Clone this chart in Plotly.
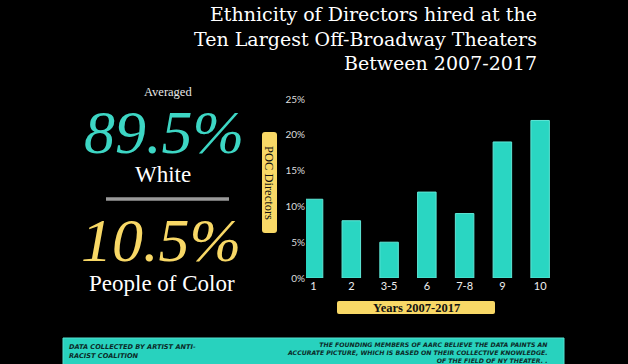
import plotly.graph_objects as go

categories = ["1", "2", "3-5", "6", "7-8", "9", "10"]
poc_share = [0.11, 0.08, 0.05, 0.12, 0.09, 0.19, 0.22]
y_ticks = [0, 0.05, 0.10, 0.15, 0.20, 0.25]
y_tick_labels = ["0%", "5%", "10%", "15%", "20%", "25%"]

title_lines = ["Ethnicity of Directors hired at the",
               "Ten Largest Off-Broadway Theaters",
               "Between 2007-2017"]
white_pct = "89.5%"
poc_pct = "10.5%"
credit_lines = ["DATA COLLECTED BY ARTIST ANTI-", "RACIST COALITION"]
note_lines = ["THE FOUNDING MEMBERS OF AARC BELIEVE THE DATA PAINTS AN",
              "ACCURATE PICTURE, WHICH IS BASED ON THEIR COLLECTIVE KNOWLEDGE.",
              "OF THE FIELD OF NY THEATER. ."]

W, H = 628, 364
L, R, T, B = 306, 72, 99, 86
PW, PH = W - L - R, H - T - B

def px(x):
    return (x - L) / PW

def py(y):
    return (H - B - y) / PH

TEAL = "#2ad6c2"
YELLOW = "#f8d866"
SERIF = "Liberation Serif, DejaVu Serif, serif"

fig = go.Figure()
fig.add_trace(go.Bar(
    x=list(range(len(categories))), y=poc_share,
    marker=dict(color=TEAL, line=dict(color="#5fe6d6", width=1)),
    width=0.49, hoverinfo="skip",
))

ann = []
for i, line in enumerate(title_lines):
    ann.append(dict(text=line, x=px(539), y=py(14 + i * 24.5), xanchor="right", yanchor="middle",
                    font=dict(family="DejaVu Serif, serif", size=19, color="white")))

ann += [
    dict(text="Averaged", x=px(168), y=py(92), font=dict(family=SERIF, size=12.5, color="#e8e8e8")),
    dict(text="<i>" + white_pct + "</i>", x=px(164), y=py(132), font=dict(family=SERIF, size=62, color="#3dd6c4")),
    dict(text="White", x=px(163), y=py(174), font=dict(family=SERIF, size=23, color="white")),
    dict(text="<i>" + poc_pct + "</i>", x=px(161), y=py(240), font=dict(family=SERIF, size=62, color=YELLOW)),
    dict(text="People of Color", x=px(162), y=py(283), font=dict(family=SERIF, size=23, color="white")),
    dict(text="POC Directors", x=px(269.5), y=py(182.5), textangle=90,
         font=dict(family=SERIF, size=12.5, color="#111")),
    dict(text="<b>Years 2007-2017</b>", x=px(416), y=py(307.5),
         font=dict(family=SERIF, size=12.5, color="#111")),
    dict(text="<b><i>" + "<br>".join(credit_lines) + "</i></b>", x=px(67), y=py(351.5),
         xanchor="left", align="left",
         font=dict(family="DejaVu Sans, sans-serif", size=6.6, color="#0b2a28")),
    dict(text="<b><i>" + "<br>".join(note_lines) + "</i></b>", x=px(550), y=py(352.5),
         xanchor="right", align="right",
         font=dict(family="DejaVu Sans, sans-serif", size=6.2, color="#0b2a28")),
]

for a in ann:
    a.setdefault("xref", "paper")
    a.setdefault("yref", "paper")
    a.setdefault("showarrow", False)
    a.setdefault("xanchor", "center")
    a.setdefault("yanchor", "middle")


def rounded(x0, y0, x1, y1, r):
    X0, X1 = px(x0), px(x1)
    Y0, Y1 = py(y1), py(y0)
    rx, ry = r / PW, r / PH
    return (f"M{X0+rx},{Y0} L{X1-rx},{Y0} Q{X1},{Y0} {X1},{Y0+ry} L{X1},{Y1-ry} Q{X1},{Y1} {X1-rx},{Y1} "
            f"L{X0+rx},{Y1} Q{X0},{Y1} {X0},{Y1-ry} L{X0},{Y0+ry} Q{X0},{Y0} {X0+rx},{Y0} Z")

shapes = [
    dict(type="line", xref="paper", yref="paper", x0=px(106), x1=px(229), y0=py(199), y1=py(199),
         line=dict(color="#9a9a9a", width=3.5)),
    dict(type="path", xref="paper", yref="paper", path=rounded(262, 132, 277, 233, 3),
         fillcolor=YELLOW, line=dict(width=0)),
    dict(type="path", xref="paper", yref="paper", path=rounded(337, 301, 495, 314, 2),
         fillcolor=YELLOW, line=dict(width=0)),
    dict(type="rect", xref="paper", yref="paper", x0=px(63), x1=px(564), y0=py(338), y1=py(366),
         fillcolor="#28d2be", line=dict(color="#52e0cf", width=1), layer="below"),
]

fig.update_layout(
    width=W, height=H,
    margin=dict(l=L, r=R, t=T, b=B),
    paper_bgcolor="black", plot_bgcolor="black",
    showlegend=False,
    annotations=ann, shapes=shapes,
    xaxis=dict(tickmode="array", tickvals=list(range(len(categories))), ticktext=categories,
               range=[-0.2, 6.42], showgrid=False, zeroline=False, showline=False, ticks="",
               tickfont=dict(family="Lato, sans-serif", size=11, color="#eeeeee")),
    yaxis=dict(tickmode="array", tickvals=y_ticks, ticktext=y_tick_labels, range=[0, 0.25],
               showgrid=False, zeroline=False, showline=False, ticks="",
               tickfont=dict(family="Lato, sans-serif", size=10, color="#dddddd")),
)

fig.write_html("out.html", config={"displayModeBar": False},
               post_script="document.body.style.margin='0';document.body.style.background='black';")
